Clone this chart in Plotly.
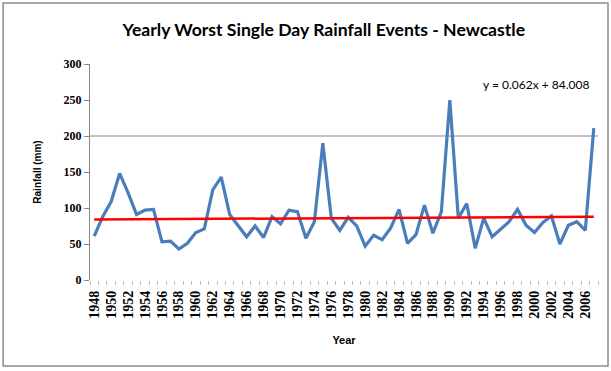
import plotly.graph_objects as go

# Annual maximum single-day rainfall (mm), Newcastle
years = list(range(1948, 2008))
rainfall = [
    61, 88, 109, 148, 121, 91, 97, 98, 53, 54,
    43, 51, 66, 71, 125, 143, 91, 75, 60, 75,
    59, 88, 78, 97, 95, 58, 81, 190, 86, 69,
    87, 75, 47, 62, 56, 72, 98, 51, 63, 104,
    65, 95, 250, 86, 106, 44, 86, 60, 71, 81,
    98, 76, 66, 80, 89, 50, 76, 81, 69, 211,
]

# Linear trend reported on the chart (x = 1, 2, ... per year)
trend_slope = 0.062
trend_intercept = 84.008
trend_label = "y = 0.062x + 84.008"

y_ticks = [0, 50, 100, 150, 200, 250, 300]

cats = [str(y) for y in years]
tick_text = [c if (int(c) % 2 == 0) else "" for c in cats]
trend = [trend_slope * (i + 1) + trend_intercept for i in range(len(years))]

fig = go.Figure()
fig.add_trace(go.Scatter(
    x=cats, y=rainfall, mode="lines",
    line=dict(color="#4A7EBB", width=3.2),
    showlegend=False,
))
fig.add_trace(go.Scatter(
    x=cats, y=trend, mode="lines",
    line=dict(color="#FF0000", width=2.5),
    showlegend=False,
))

fig.update_layout(
    width=611, height=371,
    margin=dict(l=90, r=13, t=64, b=91),
    paper_bgcolor="white",
    plot_bgcolor="white",
    title=dict(
        text="<b>Yearly Worst Single Day Rainfall Events - Newcastle</b>",
        font=dict(family="Lato", size=17.6, color="black"),
        x=0.53, xanchor="center", y=0.92, yanchor="middle",
    ),
    xaxis=dict(
        type="category",
        tickmode="array", tickvals=cats, ticktext=tick_text,
        tickson="boundaries",
        ticks="outside", ticklen=4, tickcolor="#BBBBBB", tickwidth=1,
        tickangle=-90,
        ticklabelstandoff=7,
        tickfont=dict(family="Liberation Serif", size=14, color="black", weight="bold"),
        showgrid=False, showline=False, zeroline=False,
        range=[-0.5, len(cats) - 0.5],
        title=dict(text="<b>Year</b>", font=dict(family="Liberation Sans", size=11, color="black"), standoff=18),
    ),
    yaxis=dict(
        range=[0, 300], tickvals=y_ticks,
        ticks="outside", ticklen=5, tickcolor="#868686",
        tickfont=dict(family="Liberation Serif", size=12, color="black", weight="bold"),
        showgrid=False, zeroline=False,
        showline=True, linecolor="#868686", linewidth=1,
        title=dict(text="<b>Rainfall (mm)</b>", font=dict(family="Liberation Sans", size=10, color="black"), standoff=20),
    ),
    shapes=[
        dict(type="line", xref="paper", yref="y", x0=0, x1=1, y0=200, y1=200,
             line=dict(color="#868686", width=1), layer="below"),
        dict(type="rect", xref="paper", yref="paper",
             x0=-0.171, x1=1.0197, y0=-0.398, y1=1.282,
             line=dict(color="#8C8C8C", width=1.5)),
    ],
    annotations=[
        dict(text=trend_label, xref="paper", yref="paper", x=0.986, y=0.907,
             xanchor="right", yanchor="middle", showarrow=False,
             font=dict(family="Lato", size=12, color="black")),
    ],
)

fig.write_html("out.html")
